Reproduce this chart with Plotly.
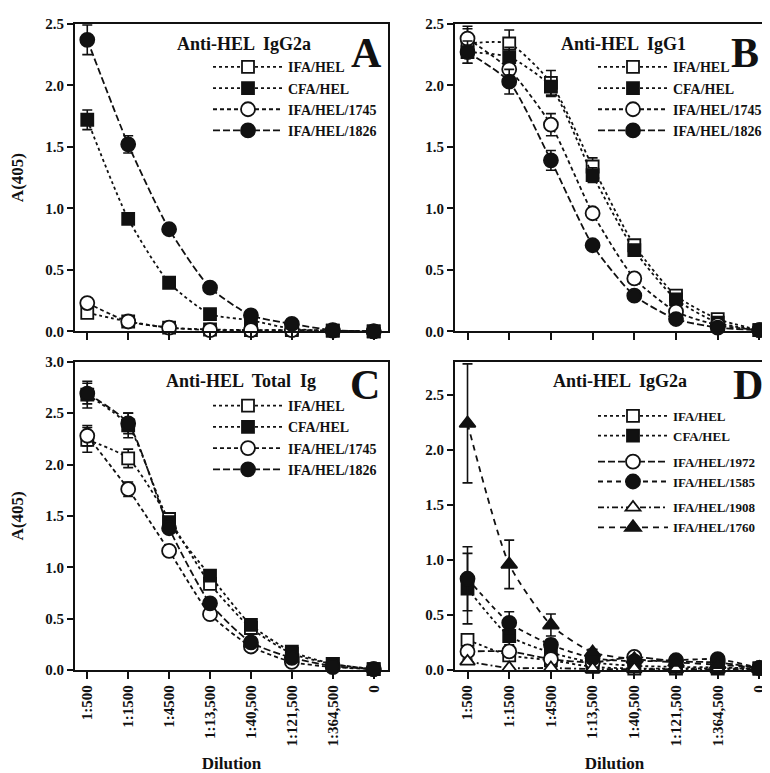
import plotly.graph_objects as go

# ---------------- data ----------------
dilutions = ["1:500", "1:1500", "1:4500", "1:13,500", "1:40,500", "1:121,500", "1:364,500", "0"]

# Panel A  (Anti-HEL IgG2a)
A_ifa_hel = [0.15, 0.08, 0.03, 0.015, 0.01, 0.01, 0.005, 0.0]
A_cfa_hel = [1.72, 0.915, 0.395, 0.14, 0.09, 0.02, 0.005, 0.0]
A_ifa_1745 = [0.23, 0.08, 0.03, 0.01, 0.01, 0.01, 0.005, 0.0]
A_ifa_1826 = [2.37, 1.52, 0.83, 0.355, 0.13, 0.06, 0.01, 0.0]
A_err_ifa_hel = [0.02, 0.01, 0.0, 0.0, 0.0, 0.0, 0.0, 0.0]
A_err_cfa_hel = [0.08, 0.03, 0.02, 0.01, 0.0, 0.0, 0.0, 0.0]
A_err_ifa_1745 = [0.02, 0.01, 0.0, 0.0, 0.0, 0.0, 0.0, 0.0]
A_err_ifa_1826 = [0.12, 0.07, 0.03, 0.02, 0.01, 0.0, 0.0, 0.0]

# Panel B  (Anti-HEL IgG1)
B_ifa_hel = [2.34, 2.34, 2.02, 1.34, 0.70, 0.29, 0.10, 0.01]
B_cfa_hel = [2.27, 2.23, 1.99, 1.27, 0.66, 0.26, 0.07, 0.01]
B_ifa_1745 = [2.38, 2.13, 1.68, 0.96, 0.43, 0.16, 0.05, 0.01]
B_ifa_1826 = [2.27, 2.03, 1.39, 0.70, 0.29, 0.10, 0.03, 0.01]
B_err_ifa_hel = [0.12, 0.11, 0.10, 0.07, 0.04, 0.03, 0.0, 0.0]
B_err_cfa_hel = [0.09, 0.08, 0.08, 0.06, 0.03, 0.02, 0.0, 0.0]
B_err_ifa_1745 = [0.10, 0.06, 0.09, 0.03, 0.02, 0.0, 0.0, 0.0]
B_err_ifa_1826 = [0.09, 0.10, 0.08, 0.03, 0.02, 0.0, 0.0, 0.0]

# Panel C  (Anti-HEL Total Ig)
C_ifa_hel = [2.24, 2.06, 1.47, 0.84, 0.41, 0.16, 0.06, 0.01]
C_cfa_hel = [2.68, 2.38, 1.44, 0.92, 0.44, 0.18, 0.06, 0.01]
C_ifa_1745 = [2.28, 1.76, 1.16, 0.545, 0.23, 0.08, 0.03, 0.01]
C_ifa_1826 = [2.69, 2.40, 1.38, 0.65, 0.27, 0.12, 0.04, 0.01]
C_err_ifa_hel = [0.12, 0.09, 0.04, 0.03, 0.02, 0.0, 0.0, 0.0]
C_err_cfa_hel = [0.13, 0.12, 0.05, 0.03, 0.02, 0.0, 0.0, 0.0]
C_err_ifa_1745 = [0.10, 0.07, 0.03, 0.02, 0.0, 0.0, 0.0, 0.0]
C_err_ifa_1826 = [0.10, 0.10, 0.04, 0.03, 0.02, 0.0, 0.0, 0.0]

# Panel D  (Anti-HEL IgG2a)
D_ifa_hel = [0.275, 0.135, 0.09, 0.03, 0.015, 0.015, 0.015, 0.015]
D_cfa_hel = [0.74, 0.31, 0.16, 0.07, 0.04, 0.03, 0.025, 0.015]
D_ifa_1972 = [0.17, 0.17, 0.10, 0.07, 0.12, 0.08, 0.07, 0.02]
D_ifa_1585 = [0.83, 0.43, 0.23, 0.11, 0.08, 0.09, 0.10, 0.02]
D_ifa_1908 = [0.08, 0.02, 0.02, 0.01, 0.01, 0.01, 0.01, 0.01]
D_ifa_1760 = [2.24, 0.96, 0.41, 0.16, 0.10, 0.07, 0.05, 0.02]
D_err_ifa_hel = [0.03, 0.02, 0.01, 0.0, 0.0, 0.0, 0.0, 0.0]
D_err_cfa_hel = [0.32, 0.08, 0.04, 0.0, 0.0, 0.0, 0.0, 0.0]
D_err_ifa_1972 = [0.02, 0.02, 0.01, 0.0, 0.0, 0.0, 0.0, 0.0]
D_err_ifa_1585 = [0.29, 0.10, 0.05, 0.02, 0.0, 0.0, 0.0, 0.0]
D_err_ifa_1908 = [0.02, 0.0, 0.0, 0.0, 0.0, 0.0, 0.0, 0.0]
D_err_ifa_1760 = [0.54, 0.22, 0.10, 0.03, 0.0, 0.0, 0.0, 0.0]

# ---------------- styling ----------------
FONT = "Liberation Serif"
BLACK = "#111111"

STYLES = {
    "IFA/HEL": dict(symbol="square", fill="white", dash="dot", size=12),
    "CFA/HEL": dict(symbol="square", fill=BLACK, dash="dot", size=12),
    "IFA/HEL/1745": dict(symbol="circle", fill="white", dash="4px,3px", size=14),
    "IFA/HEL/1826": dict(symbol="circle", fill=BLACK, dash="7px,3px", size=14),
    "IFA/HEL/1972": dict(symbol="circle", fill="white", dash="7px,3px", size=14),
    "IFA/HEL/1585": dict(symbol="circle", fill=BLACK, dash="5px,4px", size=14),
    "IFA/HEL/1908": dict(symbol="triangle-up", fill="white", dash="6px,3px,2px,3px", size=13),
    "IFA/HEL/1760": dict(symbol="triangle-up", fill=BLACK, dash="6px,5px", size=14),
}

fig = go.Figure()


def add(name, yvals, errs, xa, ya, legend, group):
    s = STYLES[name]
    fig.add_trace(go.Scatter(
        x=dilutions, y=yvals, name=name, xaxis=xa, yaxis=ya,
        mode="lines+markers",
        line=dict(color=BLACK, width=1.8, dash=s["dash"], shape="spline", smoothing=0.6),
        marker=dict(symbol=s["symbol"], size=s["size"], color=s["fill"],
                    line=dict(color=BLACK, width=1.8)),
        error_y=dict(type="data", array=errs, visible=True, color=BLACK,
                     thickness=1.6, width=5),
        legend=legend, legendgroup=legend + group, cliponaxis=False,
    ))


# Panel A
add("IFA/HEL", A_ifa_hel, A_err_ifa_hel, "x", "y", "legend", "a")
add("CFA/HEL", A_cfa_hel, A_err_cfa_hel, "x", "y", "legend", "a")
add("IFA/HEL/1745", A_ifa_1745, A_err_ifa_1745, "x", "y", "legend", "a")
add("IFA/HEL/1826", A_ifa_1826, A_err_ifa_1826, "x", "y", "legend", "a")
# Panel B
add("IFA/HEL", B_ifa_hel, B_err_ifa_hel, "x2", "y2", "legend2", "a")
add("CFA/HEL", B_cfa_hel, B_err_cfa_hel, "x2", "y2", "legend2", "a")
add("IFA/HEL/1745", B_ifa_1745, B_err_ifa_1745, "x2", "y2", "legend2", "a")
add("IFA/HEL/1826", B_ifa_1826, B_err_ifa_1826, "x2", "y2", "legend2", "a")
# Panel C
add("IFA/HEL", C_ifa_hel, C_err_ifa_hel, "x3", "y3", "legend3", "a")
add("CFA/HEL", C_cfa_hel, C_err_cfa_hel, "x3", "y3", "legend3", "a")
add("IFA/HEL/1745", C_ifa_1745, C_err_ifa_1745, "x3", "y3", "legend3", "a")
add("IFA/HEL/1826", C_ifa_1826, C_err_ifa_1826, "x3", "y3", "legend3", "a")
# Panel D
add("IFA/HEL", D_ifa_hel, D_err_ifa_hel, "x4", "y4", "legend4", "a")
add("CFA/HEL", D_cfa_hel, D_err_cfa_hel, "x4", "y4", "legend4", "a")
add("IFA/HEL/1972", D_ifa_1972, D_err_ifa_1972, "x4", "y4", "legend4", "b")
add("IFA/HEL/1585", D_ifa_1585, D_err_ifa_1585, "x4", "y4", "legend4", "b")
add("IFA/HEL/1908", D_ifa_1908, D_err_ifa_1908, "x4", "y4", "legend4", "c")
add("IFA/HEL/1760", D_ifa_1760, D_err_ifa_1760, "x4", "y4", "legend4", "c")

W, H = 770, 773
colL = [67 / W, 380 / W]
colR = [447 / W, 766 / W]
rowT = [1 - 322 / H, 1 - 8 / H]
rowB = [1 - 668 / H, 1 - 353 / H]

tickfont = dict(family=FONT, size=15, color=BLACK, weight="bold")
titlefont = dict(family=FONT, size=17, color=BLACK, weight="bold")


def xaxis(domain, anchor, labels):
    return dict(domain=domain, anchor=anchor, type="category",
                range=[-0.3, 7.35], showline=True, mirror=True, linecolor=BLACK,
                linewidth=2, ticks="outside", ticklen=7, tickwidth=2, tickcolor=BLACK,
                showticklabels=labels, tickangle=-90, tickfont=tickfont,
                showgrid=False, zeroline=False, fixedrange=True)


def yaxis(domain, anchor, rng, title):
    d = dict(domain=domain, anchor=anchor, range=rng, showline=True, mirror=True,
             linecolor=BLACK, linewidth=2, ticks="outside", ticklen=6, tickwidth=2,
             tickcolor=BLACK, tickformat=".1f", dtick=0.5, tick0=0, tickfont=tickfont,
             showgrid=False, zeroline=False, fixedrange=True)
    if title:
        d["title"] = dict(text=title, font=titlefont, standoff=20)
    return d


def legend(x, y, gap=0, size=14):
    return dict(x=x, y=y, xanchor="left", yanchor="top", bgcolor="rgba(0,0,0,0)",
                font=dict(family=FONT, size=size, color=BLACK, weight="bold"),
                itemwidth=70, tracegroupgap=gap, traceorder="grouped")


fig.update_layout(
    width=W, height=H, margin=dict(l=0, r=0, t=0, b=0),
    paper_bgcolor="white", plot_bgcolor="white",
    showlegend=True,
    xaxis=xaxis(colL, "y", False), yaxis=yaxis(rowT, "x", [0, 2.5], "A(405)"),
    xaxis2=xaxis(colR, "y2", False), yaxis2=yaxis(rowT, "x2", [0, 2.5], None),
    xaxis3=xaxis(colL, "y3", True), yaxis3=yaxis(rowB, "x3", [0, 3.0], "A(405)"),
    xaxis4=xaxis(colR, "y4", True), yaxis4=yaxis(rowB, "x4", [0, 2.8], None),
    legend=legend(200 / W, 1 - 36 / H),
    legend2=legend(585 / W, 1 - 36 / H),
    legend3=legend(200 / W, 1 - 382 / H),
    legend4=legend(585 / W, 1 - 393 / H, gap=6, size=13),
)

fig.layout.xaxis3.title = dict(text="Dilution", font=titlefont, standoff=12)
fig.layout.xaxis4.title = dict(text="Dilution", font=titlefont, standoff=12)

panels = [
    ("x", "y", "Anti-HEL  IgG2a", 0.54, 0.936, "A", 0.93, 0.905),
    ("x2", "y2", "Anti-HEL  IgG1", 0.527, 0.936, "B", 0.91, 0.905),
    ("x3", "y3", "Anti-HEL  Total  Ig", 0.53, 0.936, "C", 0.927, 0.924),
    ("x4", "y4", "Anti-HEL  IgG2a", 0.517, 0.936, "D", 0.918, 0.924),
]
for xa, ya, title, tx, ty, letter, lx, ly in panels:
    fig.add_annotation(text=title, xref=xa + " domain", yref=ya + " domain", x=tx, y=ty,
                       xanchor="center", yanchor="middle", showarrow=False,
                       font=dict(family=FONT, size=18, color=BLACK, weight="bold"))
    fig.add_annotation(text=letter, xref=xa + " domain", yref=ya + " domain", x=lx, y=ly,
                       xanchor="center", yanchor="middle", showarrow=False,
                       font=dict(family=FONT, size=42, color=BLACK, weight="bold"))

fig.write_html("out.html")
